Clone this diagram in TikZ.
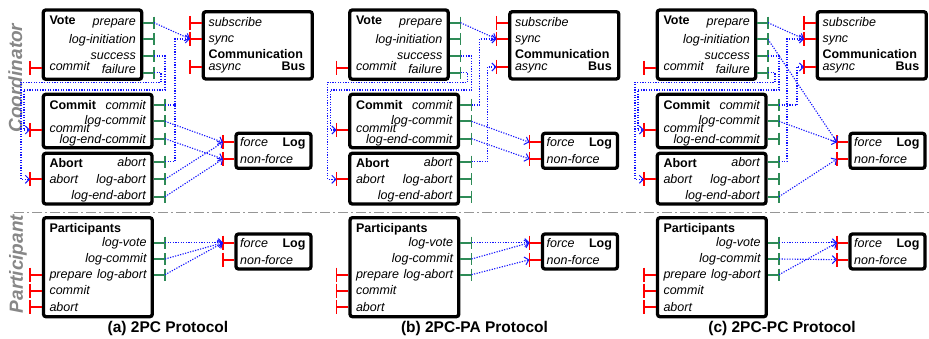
\documentclass[tikz,border=0pt]{standalone}
\usepackage{fontspec}
\setmainfont{Liberation Sans}
\usetikzlibrary{arrows.meta,fit}

\definecolor{portred}{RGB}{255,0,0}
\definecolor{portgreen}{RGB}{46,139,87}
\definecolor{wireblue}{RGB}{20,20,255}
\definecolor{sidegray}{RGB}{135,135,135}
\definecolor{sepgray}{RGB}{150,150,150}

\tikzset{
  box/.style={draw=black, line width=3.3pt, rounded corners=2.5pt, inner sep=0pt},
  lbl/.style={inner sep=0pt, font=\fontsize{12.5}{14}\selectfont\itshape},
  ttl/.style={inner sep=0pt, font=\fontsize{12.5}{14}\selectfont\bfseries},
  captxt/.style={inner sep=0pt, font=\fontsize{15.5}{18}\selectfont\bfseries},
  sidetxt/.style={inner sep=0pt, text=sidegray, rotate=90,
    font=\fontsize{19}{22}\selectfont\bfseries\itshape},
  gport/.style={draw=portgreen, line width=1.8pt},
  rport/.style={draw=portred, line width=1.8pt},
  wire/.style={draw=wireblue, line width=1.1pt, dash pattern=on 1.2pt off 1.4pt},
  wirearrow/.style={wire, -{Straight Barb[length=4pt,width=8pt,line width=1pt]}},
  sepline/.style={draw=sepgray, line width=1pt, dash pattern=on 10pt off 3pt on 2pt off 3pt},
}

% output port: green stub from the box's right side ending in a tick
\newcommand{\greenport}[3]{%
  \coordinate (#2) at #3;
  \draw[gport] (#1.east |- #2) -- (#2);
  \draw[gport] ([yshift=6pt]#2) -- ([yshift=-6pt]#2);
}
% input port: red stub from the box's left side ending in a tick
\newcommand{\redport}[3]{%
  \coordinate (#2) at #3;
  \draw[rport] (#1.west |- #2) -- (#2);
  \draw[rport] ([yshift=7pt]#2) -- ([yshift=-7pt]#2);
}

% modules shared by every protocol column
\newcommand{\panelparts}[1]{%
  % Vote module
  \node[box, fit={(43.3,10) (141.7,79.3)}] (vote) {};
  \node[ttl, anchor=base west] (vote-t) at (49.3,25) {Vote};
  \node[lbl, anchor=base east] (vote-l1) at (136,26) {prepare};
  \node[lbl, anchor=base east] (vote-l2) at (136,44) {log-initiation};
  \node[lbl, anchor=base east] (vote-l3) at (136,59.3) {success};
  \node[lbl, anchor=base east] (vote-l4) at (136,74) {failure};
  \node[lbl, anchor=base west] (vote-l5) at (49.3,70.7) {commit};
  \greenport{vote}{vprep}{(154,22.7)}
  \greenport{vote}{vinit}{(154,39.3)}
  \greenport{vote}{vsucc}{(154,56)}
  \greenport{vote}{vfail}{(154,72.7)}
  \redport{vote}{vcom}{(30,67.7)}
  % Communication Bus
  \node[box, fit={(203.3,11.7) (312.3,79)}] (bus) {};
  \node[lbl, anchor=base west] (bus-l1) at (208.3,26.7) {subscribe};
  \node[lbl, anchor=base west] (bus-l2) at (208.3,42.7) {sync};
  \node[ttl, anchor=base west] (bus-t1) at (208.3,59) {Communication};
  \node[lbl, anchor=base west] (bus-l3) at (208.3,70.7) {async};
  \node[ttl, anchor=base east] (bus-t2) at (305.5,70.7) {Bus};
  \redport{bus}{bsub}{(190,23)}
  \redport{bus}{bsync}{(190,39)}
  \redport{bus}{basync}{(190,67)}
  % Commit module
  \node[box, fit={(43.3,94.3) (152,147.7)}] (cmt) {};
  \node[ttl, anchor=base west] (cmt-t) at (49.3,110) {Commit};
  \node[lbl, anchor=base east] (cmt-l1) at (146,109.3) {commit};
  \node[lbl, anchor=base east] (cmt-l2) at (146,125) {log-commit};
  \node[lbl, anchor=base east] (cmt-l3) at (146,143.3) {log-end-commit};
  \node[lbl, anchor=base west] (cmt-l4) at (49.3,132.5) {commit};
  \greenport{cmt}{ccom}{(165,105)}
  \greenport{cmt}{clog}{(165,121.3)}
  \greenport{cmt}{cend}{(165,138.7)}
  \redport{cmt}{cin}{(30,130)}
  % Abort module
  \node[box, fit={(43.3,153.3) (152,204)}] (abt) {};
  \node[ttl, anchor=base west] (abt-t) at (49.3,167.3) {Abort};
  \node[lbl, anchor=base east] (abt-l1) at (146,166.7) {abort};
  \node[lbl, anchor=base east] (abt-l2) at (146,183.3) {log-abort};
  \node[lbl, anchor=base east] (abt-l3) at (146,200) {log-end-abort};
  \node[lbl, anchor=base west] (abt-l4) at (49.3,183.3) {abort};
  \greenport{abt}{aab}{(165,161.7)}
  \greenport{abt}{alog}{(165,179.3)}
  \greenport{abt}{aend}{(165,196.7)}
  \redport{abt}{ain}{(30,179.3)}
  % coordinator Log
  \node[box, fit={(236,133.3) (311,168.3)}] (clogbox) {};
  \node[lbl, anchor=base west] (clog-l1) at (240,146.7) {force};
  \node[lbl, anchor=base west] (clog-l2) at (240,163.3) {non-force};
  \node[ttl, anchor=base east] (clog-t) at (305.7,146.7) {Log};
  \redport{clogbox}{lf}{(223,142.3)}
  \redport{clogbox}{ln}{(223,159)}
  % Participants module
  \node[box, fit={(43.5,217.7) (152.3,316.7)}] (part) {};
  \node[ttl, anchor=base west] (part-t) at (49.3,232.3) {Participants};
  \node[lbl, anchor=base east] (part-l1) at (146.7,246.7) {log-vote};
  \node[lbl, anchor=base east] (part-l2) at (146.7,262.3) {log-commit};
  \node[lbl, anchor=base east] (part-l3) at (146.7,278.3) {log-abort};
  \node[lbl, anchor=base west] (part-l4) at (49.3,278.3) {prepare};
  \node[lbl, anchor=base west] (part-l5) at (49.3,294) {commit};
  \node[lbl, anchor=base west] (part-l6) at (49.3,311.7) {abort};
  \greenport{part}{pvote}{(165,242.7)}
  \greenport{part}{pcom}{(165,259)}
  \greenport{part}{pab}{(165,274.7)}
  \redport{part}{pprep}{(30,274.7)}
  \redport{part}{pcommit}{(30,290.7)}
  \redport{part}{pabort}{(30,307.3)}
  % participant Log
  \node[box, fit={(236,234) (311,269)}] (plogbox) {};
  \node[lbl, anchor=base west] (plog-l1) at (240,247.3) {force};
  \node[lbl, anchor=base west] (plog-l2) at (240,264) {non-force};
  \node[ttl, anchor=base east] (plog-t) at (305.7,247.3) {Log};
  \redport{plogbox}{plf}{(223,242.7)}
  \redport{plogbox}{pln}{(223,259.7)}
  % caption
  \node[captxt, anchor=base] (cap) at (168,332.7) {#1};
  % vote outcome routed back to Commit / Abort
  \draw[wirearrow] (vprep) -- (bsync);
  \draw[wirearrow] (vsucc) -| (165,90) -| (24,130) -- (cin);
  \draw[wirearrow] (vfail) -| (161,82.5) -| (21,179.3) -- (ain);
}

\begin{document}
\begin{tikzpicture}[x=1pt,y=-1pt]
  \useasboundingbox[fill=white] (0,0) rectangle (929,339);

  % role labels and the coordinator / participant divider
  \node[sidetxt, anchor=base] (coordlbl) at (22,78) {Coordinator};
  \node[sidetxt, anchor=base] (partlbl) at (23,264) {Participant};
  \coordinate (sepL) at (14,212.3);
  \coordinate (sepR) at (929,212.3);
  \draw[sepline] (sepL) -- (sepR);

  % 2PC
  \begin{scope}[name prefix=a-]
    \panelparts{(a) 2PC Protocol}
    \draw[wirearrow] (ccom) -| (175,39) -- (bsync);
    \draw[wire] (aab) -| (175,105);
    \draw[wirearrow] (clog) -- (lf);
    \draw[wirearrow] (cend) -- (ln);
    \draw[wirearrow] (alog) -- (lf);
    \draw[wirearrow] (aend) -- (ln);
    \draw[wirearrow] (pvote) -- (plf);
    \draw[wirearrow] (pcom) -- (plf);
    \draw[wirearrow] (pab) -- (plf);
  \end{scope}

  % 2PC with presumed abort
  \begin{scope}[xshift=306.5pt, name prefix=b-]
    \panelparts{(b) 2PC-PA Protocol}
    \draw[wirearrow] (ccom) -| (173,39) -- (bsync);
    \draw[wirearrow] (aab) -| (181,67) -- (basync);
    \draw[wirearrow] (clog) -- (lf);
    \draw[wirearrow] (cend) -- (ln);
    \draw[wirearrow] (pvote) -- (plf);
    \draw[wirearrow] (pcom) -- (plf);
    \draw[wirearrow] (pab) -- (pln);
  \end{scope}

  % 2PC with presumed commit
  \begin{scope}[xshift=614pt, name prefix=c-]
    \panelparts{(c) 2PC-PC Protocol}
    \draw[wirearrow] (aab) -| (173,39) -- (bsync);
    \draw[wirearrow] (ccom) -| (183,67) -- (basync);
    \draw[wirearrow] (vinit) -- (lf);
    \draw[wirearrow] (clog) -- (lf);
    \draw[wirearrow] (aend) -- (ln);
    \draw[wirearrow] (pvote) -- (plf);
    \draw[wirearrow] (pcom) -- (pln);
    \draw[wirearrow] (pab) -- (plf);
  \end{scope}
\end{tikzpicture}
\end{document}
